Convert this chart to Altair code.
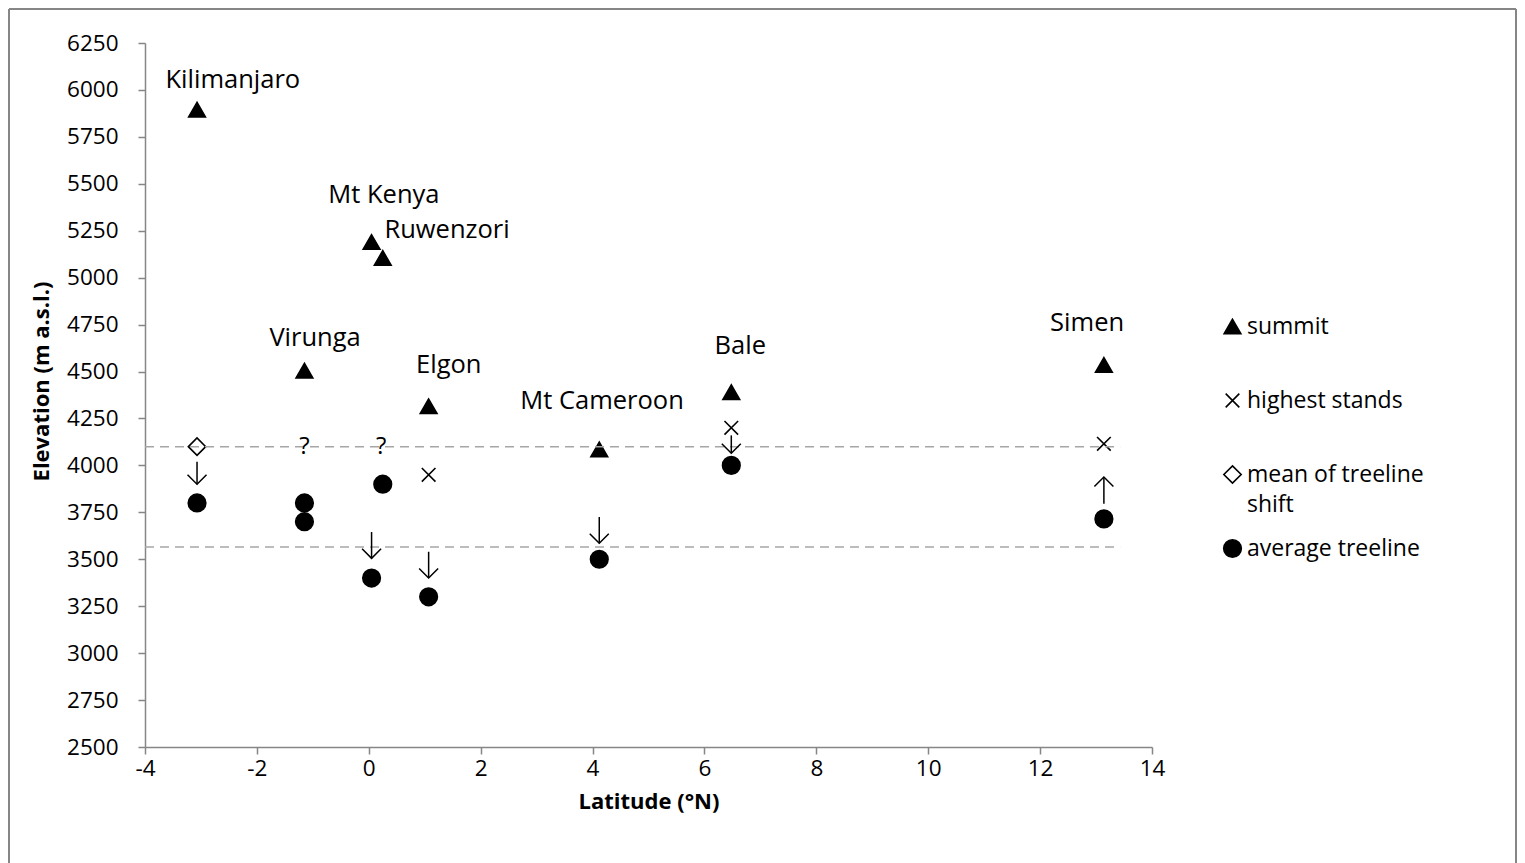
import altair as alt
import pandas as pd

# ---------------- data ----------------
mountains = ["Kilimanjaro", "Mt Kenya", "Ruwenzori", "Virunga", "Elgon",
             "Mt Cameroon", "Bale", "Simen"]
summit_lat = [-3.07, 0.05, 0.25, -1.15, 1.07, 4.12, 6.48, 13.14]
summit_elev = [5895, 5190, 5105, 4505, 4315, 4085, 4390, 4535]

# label anchor positions (data units)
label_lat = [-2.43, 0.27, 1.40, -0.96, 1.43, 4.17, 6.64, 12.84]
label_elev = [6053, 5440, 5254, 4679, 4535, 4343, 4636, 4759]

treeline_lat = [-3.07, -1.15, -1.15, 0.25, 0.05, 1.07, 4.12, 6.48, 13.14]
treeline_elev = [3800, 3800, 3700, 3900, 3400, 3300, 3500, 4000, 3715]

stands_lat = [1.07, 6.48, 13.14]
stands_elev = [3950, 4200, 4115]

shift_lat = [-3.07]
shift_elev = [4100]

question_lat = [-1.15, 0.22]
question_elev = [4100, 4100]

ref_elev = [4100, 3565]
ref_lat_start = [-4, -4]
ref_lat_end = [13.43, 13.43]

arrow_lat = [-3.07, 0.05, 1.07, 4.12, 6.48, 13.14]
arrow_tail = [4020, 3645, 3540, 3725, 4160, 3796]
arrow_tip = [3900, 3505, 3400, 3585, 4065, 3938]
arrow_dir = ["down", "down", "down", "down", "down", "up"]

series_order = ["summit", "highest stands", "mean of treeline shift", "average treeline"]

# ---------------- tables ----------------
rows = []
for la, el in zip(summit_lat, summit_elev):
    rows.append({"series": "summit", "lat": la, "elev": el})
for la, el in zip(stands_lat, stands_elev):
    rows.append({"series": "highest stands", "lat": la, "elev": el})
for la, el in zip(shift_lat, shift_elev):
    rows.append({"series": "mean of treeline shift", "lat": la, "elev": el})
for la, el in zip(treeline_lat, treeline_elev):
    rows.append({"series": "average treeline", "lat": la, "elev": el})
points_df = pd.DataFrame(rows)

labels_df = pd.DataFrame({"name": mountains, "lat": label_lat, "elev": label_elev})
q_df = pd.DataFrame({"lat": question_lat, "elev": question_elev, "t": ["?"] * len(question_lat)})
ref_df = pd.DataFrame({"x0": ref_lat_start, "x1": ref_lat_end, "elev": ref_elev})
arrow_df = pd.DataFrame({"lat": arrow_lat, "tail": arrow_tail, "tip": arrow_tip, "dir": arrow_dir})

FONT = "Open Sans"
GRAY = "#868686"

x_scale = alt.Scale(domain=[-4, 14], nice=False, zero=False)
y_scale = alt.Scale(domain=[2500, 6250], nice=False, zero=False)

cross_path = "M-0.8,-0.8L0.8,0.8M-0.8,0.8L0.8,-0.8"

legend_def = alt.Legend(
    title=None, orient="none", legendX=1076, legendY=272,
    labelFont=FONT, labelFontSize=23, labelColor="#000000",
    labelOffset=3, rowPadding=19, padding=0, gridAlign="all",
    symbolStrokeWidth=1.6, labelLimit=400,
    labelExpr="datum.label == 'mean of treeline shift' ? ['mean of treeline', 'shift'] : datum.label",
)

x_enc = alt.X("lat:Q", scale=x_scale,
              axis=alt.Axis(title="Latitude (°N)", values=list(range(-4, 15, 2)),
                            labelExpr="'' + datum.value", labelFlush=False))
y_enc = alt.Y("elev:Q", scale=y_scale,
              axis=alt.Axis(title="Elevation (m a.s.l.)",
                            values=list(range(2500, 6251, 250)),
                            labelExpr="'' + datum.value", labelFlush=False,
                            titleY=338))

points = alt.Chart(points_df).mark_point(strokeWidth=1.6, opacity=1).encode(
    x=x_enc,
    y=y_enc,
    shape=alt.Shape("series:N",
                    scale=alt.Scale(domain=series_order,
                                    range=["triangle-up", cross_path, "diamond", "circle"]),
                    legend=legend_def),
    fill=alt.Fill("series:N",
                  scale=alt.Scale(domain=series_order,
                                  range=["#000000", "transparent", "#ffffff", "#000000"]),
                  legend=legend_def),
    stroke=alt.Stroke("series:N",
                      scale=alt.Scale(domain=series_order,
                                      range=["#000000", "#000000", "#000000", "#000000"]),
                      legend=legend_def),
    size=alt.Size("series:N",
                  scale=alt.Scale(domain=series_order, range=[280, 310, 360, 300]),
                  legend=legend_def),
)

ref_lines = alt.Chart(ref_df).mark_rule(color="#A6A6A6", strokeWidth=1.5,
                                         strokeDash=[9, 6]).encode(
    x=alt.X("x0:Q", scale=x_scale),
    x2="x1:Q",
    y=alt.Y("elev:Q", scale=y_scale),
)

shafts = alt.Chart(arrow_df).mark_rule(color="#000000", strokeWidth=1.5).encode(
    x=alt.X("lat:Q", scale=x_scale),
    y=alt.Y("tail:Q", scale=y_scale),
    y2="tip:Q",
)

heads_down = alt.Chart(arrow_df).transform_filter(alt.datum.dir == "down").mark_point(
    shape="M-1,-1L0,0L1,-1", size=361, filled=False, color="#000000",
    strokeWidth=1.5, opacity=1).encode(
    x=alt.X("lat:Q", scale=x_scale),
    y=alt.Y("tip:Q", scale=y_scale),
)
heads_up = alt.Chart(arrow_df).transform_filter(alt.datum.dir == "up").mark_point(
    shape="M-1,1L0,0L1,1", size=361, filled=False, color="#000000",
    strokeWidth=1.5, opacity=1).encode(
    x=alt.X("lat:Q", scale=x_scale),
    y=alt.Y("tip:Q", scale=y_scale),
)

labels = alt.Chart(labels_df).mark_text(font=FONT, fontSize=25.5, color="#000000",
                                         align="center", baseline="middle").encode(
    x=alt.X("lat:Q", scale=x_scale),
    y=alt.Y("elev:Q", scale=y_scale),
    text="name:N",
)

qmarks = alt.Chart(q_df).mark_text(font=FONT, fontSize=24, color="#000000",
                                    align="center", baseline="middle").encode(
    x=alt.X("lat:Q", scale=x_scale),
    y=alt.Y("elev:Q", scale=y_scale),
    text="t:N",
)

frame_df = pd.DataFrame({"k": [0]})
frame_left = alt.Chart(frame_df).mark_rule(color=GRAY, strokeWidth=2).encode(
    x=alt.value(-136), y=alt.value(-34), y2=alt.value(830))
frame_top = alt.Chart(frame_df).mark_rule(color=GRAY, strokeWidth=2).encode(
    x=alt.value(-136), x2=alt.value(1371), y=alt.value(-34))
frame_right = alt.Chart(frame_df).mark_rule(color=GRAY, strokeWidth=2).encode(
    x=alt.value(1371), y=alt.value(-34), y2=alt.value(830))

chart = alt.layer(
    points, ref_lines, shafts, heads_down, heads_up, labels, qmarks,
    frame_left, frame_top, frame_right,
).properties(
    width=1007, height=704,
    padding={"left": 137, "top": 35, "right": 365, "bottom": 116},
    autosize=alt.AutoSizeParams(type="none"),
    background="#ffffff",
).configure(
    style={"guide-label": {"lineHeight": 30}}
).configure_view(
    stroke=None
).configure_axis(
    grid=False,
    domainColor=GRAY, domainWidth=1.5,
    tickColor=GRAY, tickWidth=1.5, tickSize=7,
    labelFont=FONT, labelFontSize=22.5, labelColor="#000000",
    titleFont=FONT, titleFontSize=22, titleFontWeight="bold", titleColor="#000000",
).configure_axisY(
    labelPadding=20, titlePadding=13,
).configure_axisX(
    labelPadding=3, titlePadding=12,
)

chart.save("out.html", embed_options={"renderer": "svg", "actions": False})
